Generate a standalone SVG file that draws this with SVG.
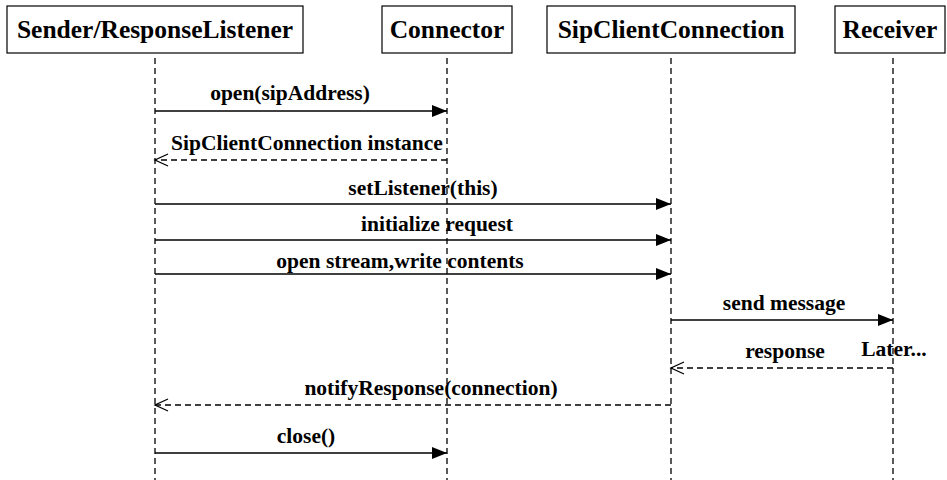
<svg xmlns="http://www.w3.org/2000/svg" width="947" height="480" viewBox="0 0 947 480">
  <defs>
    <!-- filled head for synchronous calls -->
    <marker id="solidHead" markerUnits="userSpaceOnUse" markerWidth="16" markerHeight="14" refX="15" refY="7" orient="auto">
      <path d="M0,1 L15,7 L0,13 Z" fill="#000"/>
    </marker>
    <!-- open head for replies -->
    <marker id="openHead" markerUnits="userSpaceOnUse" markerWidth="16" markerHeight="14" refX="14" refY="7" orient="auto">
      <path d="M1,1 L14,7 L1,13" fill="none" stroke="#000" stroke-width="1.3"/>
    </marker>
  </defs>
  <style>
    .box { fill: #fff; stroke: #000; stroke-width: 1.2; }
    .title { font-family: "Liberation Serif", "Times New Roman", serif; font-weight: bold; font-size: 25.5px; text-anchor: middle; fill: #000; }
    .life { stroke: #000; stroke-width: 1.3; stroke-dasharray: 6 4; fill: none; }
    .call { stroke: #000; stroke-width: 1.3; fill: none; marker-end: url(#solidHead); }
    .reply { stroke: #000; stroke-width: 1.3; stroke-dasharray: 6 4; fill: none; marker-end: url(#openHead); }
    .label { font-family: "Liberation Serif", "Times New Roman", serif; font-weight: bold; font-size: 21.5px; text-anchor: middle; fill: #000; }
  </style>
  <rect width="947" height="480" fill="#fff"/>

  <!-- lifelines -->
  <g id="lifelines">
    <line class="life" x1="155" y1="58" x2="155" y2="480"/>
    <line class="life" x1="447" y1="58" x2="447" y2="480"/>
    <line class="life" x1="671" y1="58" x2="671" y2="480"/>
    <line class="life" x1="893" y1="58" x2="893" y2="480"/>
  </g>

  <!-- participants -->
  <g id="sender">
    <rect class="box" x="7" y="6" width="296" height="47"/>
    <text class="title" x="155" y="38">Sender/ResponseListener</text>
  </g>
  <g id="connector">
    <rect class="box" x="382" y="6" width="130" height="47"/>
    <text class="title" x="447" y="38">Connector</text>
  </g>
  <g id="sipClientConnection">
    <rect class="box" x="547" y="6" width="248" height="47"/>
    <text class="title" x="671" y="38">SipClientConnection</text>
  </g>
  <g id="receiver">
    <rect class="box" x="835" y="6" width="110" height="47"/>
    <text class="title" x="890" y="38">Receiver</text>
  </g>

  <!-- messages -->
  <g id="connectors">
    <line class="call" x1="155" y1="111" x2="447" y2="111"/>
    <line class="reply" x1="447" y1="160" x2="155" y2="160"/>
    <line class="call" x1="155" y1="204" x2="671" y2="204"/>
    <line class="call" x1="155" y1="240" x2="671" y2="240"/>
    <line class="call" x1="155" y1="274" x2="671" y2="274"/>
    <line class="call" x1="671" y1="320" x2="893" y2="320"/>
    <line class="reply" x1="893" y1="368" x2="671" y2="368"/>
    <line class="reply" x1="671" y1="405" x2="155" y2="405"/>
    <line class="call" x1="155" y1="453" x2="447" y2="453"/>
  </g>

  <g id="labels">
    <text class="label" x="290" y="100">open(sipAddress)</text>
    <text class="label" x="307" y="150">SipClientConnection instance</text>
    <text class="label" x="423" y="195">setListener(this)</text>
    <text class="label" x="437" y="231">initialize request</text>
    <text class="label" x="400" y="268">open stream,write contents</text>
    <text class="label" x="784" y="310">send message</text>
    <text class="label" x="785" y="358">response</text>
    <text class="label" x="894" y="356">Later...</text>
    <text class="label" x="431" y="395">notifyResponse(connection)</text>
    <text class="label" x="306" y="443">close()</text>
  </g>
</svg>
